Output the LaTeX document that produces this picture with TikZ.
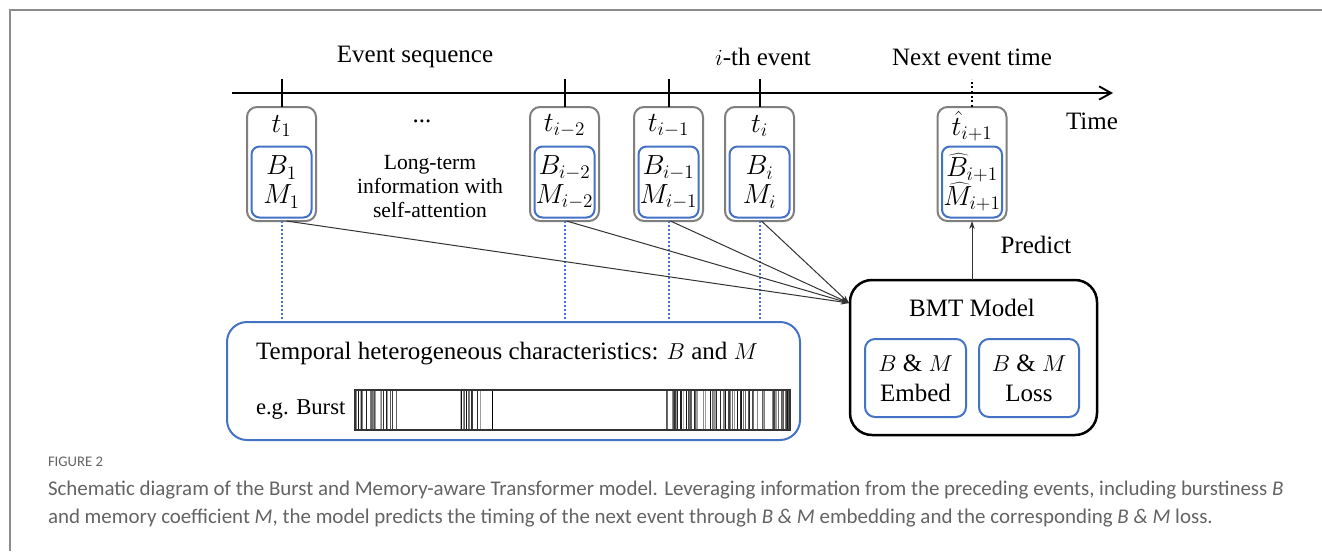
\documentclass[tikz,border=0pt]{standalone}
\usepackage{fontspec}
\setmainfont{Liberation Serif}
\newfontfamily\capfont{Carlito}
\usetikzlibrary{arrows.meta,calc}
\newcommand\pxl[1]{#1*0.75pt}
\definecolor{bblue}{HTML}{4472C4}
\definecolor{bgray}{HTML}{7F7F7F}
\definecolor{capgray}{HTML}{646464}
\definecolor{framegray}{HTML}{8C8C8C}
\definecolor{conngray}{HTML}{333333}
\begin{document}
\begin{tikzpicture}[x=0.75pt,y=-0.75pt,
  every node/.style={inner sep=0pt, outer sep=0pt},
  txt/.style={font=\rmfamily\fontsize{18.75}{22}\selectfont},
  outerbox/.style={draw=bgray, line width=\pxl{2}, rounded corners=\pxl{10},
    minimum width=\pxl{69}, minimum height=\pxl{114}},
  innerbox/.style={draw=bblue, line width=\pxl{2}, rounded corners=\pxl{8},
    minimum width=\pxl{60}, minimum height=\pxl{71}, align=center,
    font=\fontsize{21}{21.75}\selectfont},
  tlabel/.style={font=\fontsize{21}{22}\selectfont},
  tickline/.style={line width=\pxl{2}, black},
  bdot/.style={draw=bblue, line width=\pxl{2}, dash pattern=on \pxl{2} off \pxl{2}},
  conn/.style={draw=conngray, line width=\pxl{1}, -{Stealth[length=6pt,width=4pt]}},
  subbox/.style={draw=bblue, line width=\pxl{2}, rounded corners=\pxl{10},
    minimum height=\pxl{78}, align=center, font=\rmfamily\fontsize{18.75}{22.5}\selectfont},
  captxt/.style={font=\capfont\fontsize{15.7}{18}\selectfont, text=capgray, anchor=west}
]
\useasboundingbox (0,0) rectangle (1322,551);
\fill[white] (0,0) rectangle (1322,551);

% frame
\draw[framegray, line width=\pxl{2}] (10,551) -- (10,10) -- (1322,10);

% titles
\node[txt] (evseq) at (415,57) {Event sequence};
\node[txt] (ith) at (763,57) {$i$-th event};
\node[txt] (next) at (972,57) {Next event time};
\node[txt] (time) at (1092,121) {Time};

% timeline
\coordinate (tlstart) at (232,93);
\coordinate (tlend) at (1113,93);
\draw[line width=\pxl{2}, -{Straight Barb[length=9pt,width=10pt,line width=1.4pt]}] (tlstart) -- (tlend);
\coordinate (ticktop) at (0,79);

% event boxes
\foreach \nm/\cx/\tl/\bl/\ml in {
  e1/281.5/{t_1}/{B_1}/{M_1},
  e2/564.5/{t_{i-2}}/{B_{i-2}}/{M_{i-2}},
  e3/668.5/{t_{i-1}}/{B_{i-1}}/{M_{i-1}},
  e4/759.5/{t_i}/{B_i}/{M_i},
  e5/972/{\hat{t}_{i+1}}/{\widehat{B}_{i+1}}/{\widehat{M}_{i+1}}} {
  \node[outerbox] (\nm) at (\cx,164) {};
  \node[innerbox] (\nm in) at (\cx,182) {$\bl$\\$\ml$};
  \node[tlabel] (\nm t) at (\cx,126) {$\tl$};
}

% ticks
\foreach \nm in {e1,e2,e3,e4} {
  \draw[tickline] (\nm.north) -- (\nm.north |- ticktop);
}
\draw[tickline, dotted] (e5.north) -- (e5.north |- ticktop);

% middle text
\node[txt] (dots) at (422,121) {...};
\node[align=center, font=\rmfamily\fontsize{16.2}{18}\selectfont] (longterm) at (430,187)
  {Long-term\\information with\\self-attention};

% temporal box
\node[draw=bblue, line width=\pxl{2}, rounded corners=\pxl{20},
  minimum width=\pxl{573}, minimum height=\pxl{118}] (temporal) at (513.5,381) {};
\node[txt] (temptitle) at (507,354) {Temporal heterogeneous characteristics: $B$ and $M$};
\node[anchor=west, font=\rmfamily\fontsize{17}{20}\selectfont] (eg) at (256,410) {e.g. Burst};

% burst bar
\pgfmathsetseed{42}
\foreach \a/\b/\n in {355/401/26, 460/481/13, 666/790/85} {
  \foreach \k in {1,...,\n} {
    \pgfmathsetmacro\xx{\a+rnd*(\b-\a)}
    \pgfmathsetmacro\gg{int(30+rnd*65)}
    \draw[black!\gg, line width=0.7pt] (\xx,391) -- (\xx,429);
  }
}
\draw[black, line width=0.5pt] (492,391) -- (492,429);
\draw[black!80, line width=\pxl{1.5}] (355,390) rectangle (790,430);

% dotted blue links
\foreach \nm in {e1,e2,e3,e4} {
  \draw[bdot] (\nm.south) -- (\nm.south |- temporal.north);
}

% BMT model
\node[draw=black, line width=\pxl{2.5}, rounded corners=\pxl{22},
  minimum width=\pxl{247}, minimum height=\pxl{155}] (bmt) at (973.5,357.5) {};
\node[txt] (bmttitle) at (972,308) {BMT Model};
\node[subbox, minimum width=\pxl{101}] (embed) at (915.5,378) {$B$ \& $M$\\Embed};
\node[subbox, minimum width=\pxl{100}] (loss) at (1029,378) {$B$ \& $M$\\Loss};

% converging arrows
\coordinate (conv) at (849,303);
\draw[conn] ([xshift=\pxl{5}]e1.south) -- (conv);
\draw[conn] ([xshift=\pxl{2}]e2.south) -- (conv);
\draw[conn] ([xshift=\pxl{2}]e3.south) -- (conv);
\draw[conn] ([xshift=\pxl{2}]e4.south) -- (conv);

% predict
\draw[draw=conngray, line width=\pxl{1}, -{Stealth[length=6pt,width=4pt]}] (e5.south |- bmt.north) -- (e5.south);
\node[txt] (predict) at (1036,245) {Predict};

% caption
\node[captxt, font=\capfont\fontsize{11}{12}\selectfont] (figlabel) at (48,462) {FIGURE 2};
\node[captxt] (cap1) at (48,490) {Schematic diagram of the Burst and Memory-aware Transformer model. Leveraging information from the preceding events, including burstiness \textit{B}};
\node[captxt] (cap2) at (48,518) {and memory coefficient \textit{M}, the model predicts the timing of the next event through \textit{B \& M} embedding and the corresponding \textit{B \& M} loss.};
\end{tikzpicture}
\end{document}
